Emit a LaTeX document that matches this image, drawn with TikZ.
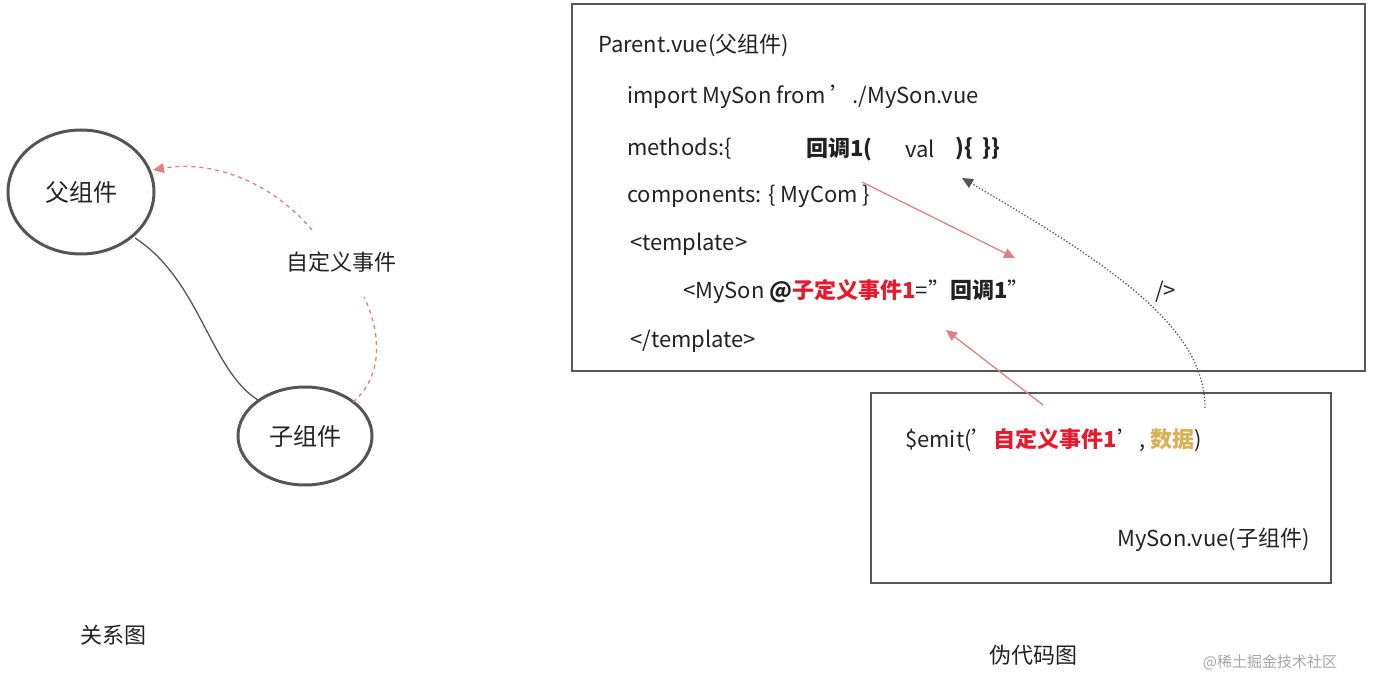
\documentclass[tikz,border=0pt]{standalone}
\usepackage{fontspec}
\setmainfont{Noto Sans CJK SC}
\usetikzlibrary{arrows.meta}
\definecolor{ln}{HTML}{555555}
\definecolor{pk}{HTML}{E08080}
\definecolor{rd}{HTML}{E8192C}
\definecolor{gd}{HTML}{D9B055}
\definecolor{tx}{HTML}{222222}
\tikzset{
 circ/.style={draw=ln,line width=3pt,ellipse shape/.try,inner sep=0pt},
 txt/.style={anchor=west,inner sep=0pt,text=tx,font=\fontsize{22}{24}\selectfont},
 pkar/.style={draw=pk,line width=1.3pt,-{Triangle[length=11pt,width=10pt]}},
 box/.style={draw=ln,line width=1.5pt}
}
\begin{document}
\begin{tikzpicture}[x=1pt,y=-1pt]
\useasboundingbox (0,0) rectangle (1373,692);
% left diagram
\draw[ln,line width=3pt] (81,192) ellipse [x radius=73,y radius=62];
\draw[ln,line width=3pt] (305,436) ellipse [x radius=67,y radius=49];
\node[txt,anchor=center,font=\fontsize{24}{26}\selectfont] (fu) at (81,192) {父组件};
\node[txt,anchor=center,font=\fontsize{24}{26}\selectfont] (zi) at (305,436) {子组件};
\coordinate (fuE) at (135,238);
\coordinate (ziW) at (258,400);
\draw[ln,line width=1.3pt] (fuE) .. controls (200,280) and (210,370) .. (ziW);
\node[txt,anchor=center] (ev) at (341,262) {自定义事件};
\coordinate (ziNE) at (353,402);
\coordinate (evB) at (364,297);
\coordinate (evT) at (312,230);
\coordinate (fuR) at (153,170);
\draw[pk,line width=1.3pt,dashed,dash pattern=on 4pt off 4pt] (ziNE) .. controls (385,375) and (380,330) .. (evB);
\draw[pk,line width=1.3pt,dash pattern=on 4pt off 4pt,-{Triangle[length=11pt,width=10pt]}] (evT) .. controls (270,180) and (210,160) .. (fuR);
\node[txt,anchor=center] (gx) at (113,635) {关系图};
% code box
\draw[box] (572,4) rectangle (1365,371);
\node[txt] (l1) at (598,45) {Parent.vue(父组件)};
\node[txt] (l2) at (627,97) {import MySon from './MySon.vue};
\node[txt] (l3) at (627,149) {methods:\{};
\node[txt] (l3b) at (806,149) {\bfseries 回调1(};
\node[txt] (l3c) at (905,149) {val};
\node[txt] (l3d) at (955,149) {\bfseries )\{\ \ \}\}};
\node[txt] (l4) at (627,196) {components: \{ MyCom \}};
\node[txt] (l5) at (630,244) {<template>};
\node[txt] (l6) at (683,292) {<MySon \textbf{@}{\bfseries\color{rd}子定义事件1}="\textbf{回调1}"};
\node[txt] (l6b) at (1155,292) {/>};
\node[txt] (l7) at (630,341) {</template>};
% son box
\draw[box] (871,393) rectangle (1331,583);
\node[txt] (e1) at (905,440) {\$emit('{\bfseries\color{rd}自定义事件1}', {\bfseries\color{gd}数据})};
\node[txt,anchor=east] (e2) at (1310,540) {MySon.vue(子组件)};
\node[txt,anchor=center] (wd) at (1033,655) {伪代码图};
\node[txt,anchor=center,text=gray!70,font=\fontsize{15}{17}\selectfont] (wm) at (1270,662) {@稀土掘金技术社区};
% arrows
\coordinate (a1s) at (862,182);
\coordinate (a1e) at (1015,258);
\draw[pkar] (a1s) -- (a1e);
\coordinate (a2s) at (1043,405);
\coordinate (a2e) at (946,330);
\draw[pkar] (a2s) -- (a2e);
\coordinate (a3s) at (1205,408);
\coordinate (a3e) at (962,178);
\draw[ln,line width=1.3pt,dotted,-{Triangle[length=11pt,width=10pt]}] (a3s) .. controls (1205,330) and (1120,270) .. (a3e);
\end{tikzpicture}
\end{document}
